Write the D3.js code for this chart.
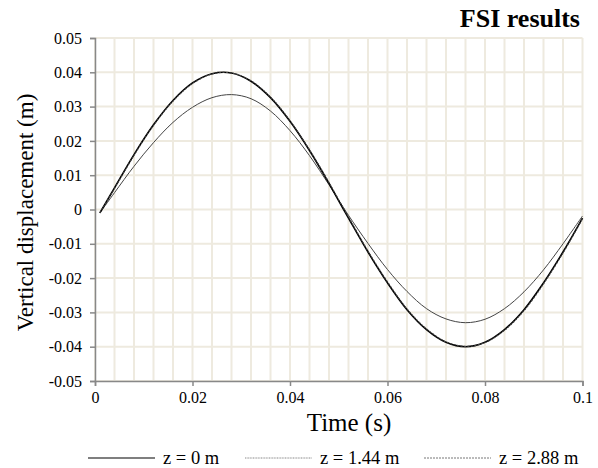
<!DOCTYPE html>
<html>
<head>
<meta charset="utf-8">
<script src="https://cdn.jsdelivr.net/npm/d3@7"></script>
<style>
  html, body { margin: 0; padding: 0; background: #fff; }
  svg { display: block; }
  text { font-family: "Liberation Serif", "Times New Roman", serif; fill: #000; }
</style>
</head>
<body>
<svg id="chart" width="598" height="468"></svg>
<script>
// ---- data ----
const time = [0.001, 0.004, 0.008, 0.012, 0.016, 0.020, 0.024, 0.028, 0.032, 0.036, 0.040, 0.044, 0.048, 0.050, 0.052, 0.056, 0.060, 0.064, 0.068, 0.072, 0.076, 0.080, 0.084, 0.088, 0.092, 0.096, 0.100];
const z0 = [-0.0010, 0.0063, 0.0160, 0.0247, 0.0318, 0.0369, 0.0396, 0.0398, 0.0374, 0.0326, 0.0257, 0.0172, 0.0076, 0.0025, -0.0025, -0.0124, -0.0214, -0.0292, -0.0350, -0.0387, -0.0400, -0.0387, -0.0350, -0.0292, -0.0214, -0.0124, -0.0025];
const z144 = [-0.0010, 0.0049, 0.0126, 0.0195, 0.0254, 0.0298, 0.0326, 0.0335, 0.0323, 0.0287, 0.0230, 0.0157, 0.0072, 0.0027, -0.0017, -0.0099, -0.0175, -0.0239, -0.0289, -0.0319, -0.0330, -0.0320, -0.0289, -0.0240, -0.0176, -0.0100, -0.0019];
const z288 = [-0.0010, 0.0061, 0.0158, 0.0245, 0.0316, 0.0367, 0.0395, 0.0398, 0.0375, 0.0328, 0.0259, 0.0174, 0.0079, 0.0028, -0.0022, -0.0121, -0.0211, -0.0290, -0.0348, -0.0386, -0.0399, -0.0388, -0.0352, -0.0295, -0.0217, -0.0127, -0.0027];
const seriesNames = ["z = 0 m", "z = 1.44 m", "z = 2.88 m"];
const xTicks = [0, 0.02, 0.04, 0.06, 0.08, 0.1];
const xTickLabels = ["0", "0.02", "0.04", "0.06", "0.08", "0.1"];
const yTicks = [-0.05, -0.04, -0.03, -0.02, -0.01, 0, 0.01, 0.02, 0.03, 0.04, 0.05];
const yTickLabels = ["-0.05", "-0.04", "-0.03", "-0.02", "-0.01", "0", "0.01", "0.02", "0.03", "0.04", "0.05"];
const xGrid = d3.range(0, 26).map(i => i * 0.004);
const title = "FSI results";
const xTitle = "Time (s)";
const yTitle = "Vertical displacement (m)";

// ---- layout ----
const svg = d3.select("#chart");
const mLeft = 95, mRight = 582.5, mTop = 38, mBottom = 381;
const x = d3.scaleLinear().domain([0, 0.1]).range([mLeft, mRight]);
const y = d3.scaleLinear().domain([-0.05, 0.05]).range([mBottom, mTop]);

const gridColor = "#eeeadf";
const axisColor = "#888";

// grid
svg.append("g").selectAll("line").data(xGrid).join("line")
  .attr("x1", d => x(d)).attr("x2", d => x(d))
  .attr("y1", mTop).attr("y2", mBottom)
  .attr("stroke", gridColor).attr("stroke-width", 2);
svg.append("g").selectAll("line").data(yTicks).join("line")
  .attr("x1", mLeft).attr("x2", mRight)
  .attr("y1", d => y(d)).attr("y2", d => y(d))
  .attr("stroke", gridColor).attr("stroke-width", 2);

// axes
const yAxis = d3.axisLeft(y).tickValues(yTicks).tickSize(5).tickPadding(8)
  .tickFormat((d, i) => yTickLabels[i]);
const gy = svg.append("g").attr("transform", `translate(${mLeft},0)`).call(yAxis);
const xAxis = d3.axisBottom(x).tickValues(xTicks).tickSize(5).tickPadding(6)
  .tickFormat((d, i) => xTickLabels[i]);
const gx = svg.append("g").attr("transform", `translate(0,${mBottom})`).call(xAxis);
[gx, gy].forEach(g => {
  g.attr("font-family", "Liberation Serif");
  g.select(".domain").attr("stroke", axisColor).attr("stroke-width", 1.5);
  g.selectAll(".tick line").attr("stroke", axisColor).attr("stroke-width", 1.5);
  g.selectAll(".tick text").style("font-family", "'Liberation Serif', serif").attr("font-size", 16).attr("fill", "#000");
});

// lines
const data = [z0, z144, z288];
const styles = [
  { stroke: "#000", width: 1.6, dash: null },
  { stroke: "#444", width: 1.0, dash: null },
  { stroke: "#444", width: 1.1, dash: "2,1.5" }
];
const line = d3.line().x(d => x(d[0])).y(d => y(d[1])).curve(d3.curveCatmullRom.alpha(0.5));
const drawOrder = [1, 0, 2];
drawOrder.forEach(k => {
  svg.append("path")
    .datum(time.map((t, i) => [t, data[k][i]]))
    .attr("d", line)
    .attr("fill", "none")
    .attr("stroke", styles[k].stroke)
    .attr("stroke-width", styles[k].width)
    .attr("stroke-dasharray", styles[k].dash);
});

// titles
svg.append("text").attr("x", 580).attr("y", 27).attr("text-anchor", "end")
  .attr("font-size", 26).attr("font-weight", "bold").text(title);
svg.append("text").attr("x", 349).attr("y", 431).attr("text-anchor", "middle")
  .attr("font-size", 25).text(xTitle);
svg.append("text").attr("transform", `translate(33,${(mTop + mBottom) / 2 + 3}) rotate(-90)`)
  .attr("text-anchor", "middle").attr("font-size", 23).text(yTitle);

// legend
const legendItems = [
  { x1: 88, x2: 155, tx: 163, stroke: "#555", width: 1.3, dash: null },
  { x1: 245, x2: 312, tx: 320, stroke: "#888", width: 1.0, dash: "1,0.6" },
  { x1: 424, x2: 491, tx: 499, stroke: "#777", width: 1.0, dash: "2,1" }
];
const ly = 458;
legendItems.forEach((it, i) => {
  svg.append("line").attr("x1", it.x1).attr("x2", it.x2).attr("y1", ly).attr("y2", ly)
    .attr("stroke", it.stroke).attr("stroke-width", it.width).attr("stroke-dasharray", it.dash);
  svg.append("text").attr("x", it.tx).attr("y", ly + 6).attr("font-size", 18.5).text(seriesNames[i]);
});
</script>
</body>
</html>
